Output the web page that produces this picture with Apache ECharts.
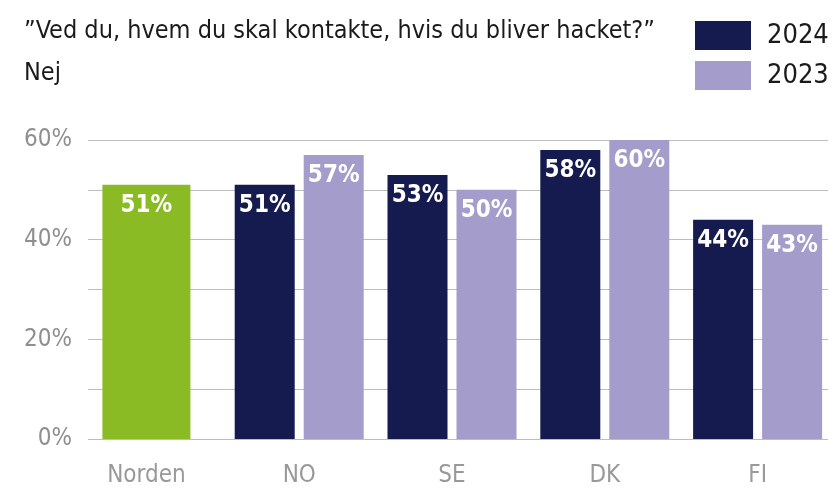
<!DOCTYPE html>
<html>
<head>
<meta charset="utf-8">
<script src="https://cdn.jsdelivr.net/npm/echarts@6/dist/echarts.min.js"></script>
<style>
  html, body { margin: 0; padding: 0; background: #fff; }
  #chart { width: 834px; height: 489px; }
</style>
</head>
<body>
<div id="chart"></div>
<script>
// Data
const categories = ['Norden', 'NO', 'SE', 'DK', 'FI'];
const values2024 = ['-', 51, 53, 58, 44];
const values2023 = ['-', 57, 50, 60, 43];
const valuesNorden = [51, '-', '-', '-', '-'];
const yTicks = [0, 20, 40, 60];

const FONT = '"DejaVu Sans Condensed", "Liberation Sans Narrow", sans-serif';
const NAVY = '#161b4f';
const PURPLE = '#a49ccb';
const GREEN = '#8abb25';

const barLabel = {
  show: true,
  position: 'insideTop',
  distance: 9,
  color: '#fff',
  fontFamily: FONT,
  fontWeight: 'bold',
  fontSize: 24,
  formatter: '{c}%'
};

const chart = echarts.init(document.getElementById('chart'));
chart.setOption({
  animation: false,
  title: {
    text: '\u201dVed du, hvem du skal kontakte, hvis du bliver hacket?\u201d\nNej',
    left: 24,
    top: 10,
    padding: 0,
    textStyle: {
      fontFamily: FONT,
      fontWeight: 'normal',
      fontSize: 25,
      lineHeight: 42,
      color: '#1a1a1a'
    }
  },
  legend: {
    data: ['2024', '2023'],
    orient: 'vertical',
    left: 695,
    top: 21,
    padding: 0,
    itemWidth: 56,
    itemHeight: 29,
    itemGap: 11,
    icon: 'rect',
    textStyle: {
      fontFamily: FONT,
      fontSize: 27,
      color: '#1a1a1a',
      padding: [0, 0, 0, 11]
    }
  },
  grid: [
    { left: 88, right: 6, top: 140, bottom: 50 },
    { left: 70, right: 0, top: 140, bottom: 50 }
  ],
  xAxis: [
    { type: 'category', gridIndex: 0, data: categories, show: false },
    {
      type: 'category',
      gridIndex: 1,
      data: categories,
      axisLine: { show: false },
      axisTick: { show: false },
      axisLabel: {
        margin: 25,
        color: '#999',
        fontFamily: FONT,
        fontSize: 24
      }
    },
    { type: 'category', gridIndex: 1, data: categories, show: false }
  ],
  yAxis: [
    {
      type: 'value',
      gridIndex: 0,
      min: 0,
      max: 60,
      interval: 10,
      axisLine: { show: false },
      axisTick: { show: false },
      splitLine: { lineStyle: { color: '#bdbdbd', width: 1 } },
      axisLabel: {
        margin: 16,
        color: '#8f8f8f',
        fontFamily: FONT,
        fontSize: 24,
        formatter: v => (yTicks.includes(v) ? v + '%' : '')
      }
    },
    { type: 'value', gridIndex: 1, min: 0, max: 60, show: false }
  ],
  series: [
    {
      name: 'Norden',
      type: 'bar',
      xAxisIndex: 2,
      yAxisIndex: 1,
      data: valuesNorden,
      barWidth: 88,
      itemStyle: { color: GREEN },
      label: barLabel
    },
    {
      name: '2024',
      type: 'bar',
      xAxisIndex: 1,
      yAxisIndex: 1,
      data: values2024,
      barWidth: 60,
      barGap: '15%',
      itemStyle: { color: NAVY },
      label: barLabel
    },
    {
      name: '2023',
      type: 'bar',
      xAxisIndex: 1,
      yAxisIndex: 1,
      data: values2023,
      barWidth: 60,
      barGap: '15%',
      itemStyle: { color: PURPLE },
      label: barLabel
    }
  ]
});
</script>
</body>
</html>
